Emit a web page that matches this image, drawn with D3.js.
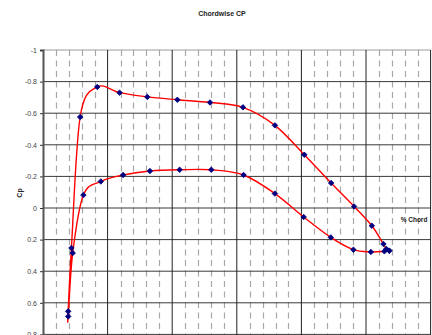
<!DOCTYPE html>
<html>
<head>
<meta charset="utf-8">
<script src="https://cdn.jsdelivr.net/npm/d3@7"></script>
<style>
  html, body { margin: 0; padding: 0; background: #fff; }
  svg { display: block; font-family: "Liberation Sans", Arial, sans-serif; }
</style>
</head>
<body>
<svg id="chart" width="432" height="335"></svg>
<script>
// Pressure coefficient around the section, in measurement order:
// upper surface from trailing edge to leading edge, then lower surface back to the trailing edge.
const chordPct = [107.2, 106.3, 105.4, 101.8, 96.3, 89.2, 80.9, 71.8, 61.9, 51.7, 41.6, 32.3, 23.7, 16.8, 11.5,
                  8.8, 7.8, 7.8, 9.2,
                  12.5, 17.9, 24.8, 33.1, 42.3, 52.1, 62.1, 71.8, 80.7, 89.1, 96.1, 101.5, 105.7, 107.2];
const cpValues = [0.270, 0.259, 0.228, 0.112, -0.010, -0.158, -0.337, -0.523, -0.637, -0.668, -0.685, -0.703, -0.730, -0.766, -0.576,
                  0.253, 0.654, 0.686, 0.285,
                  -0.082, -0.168, -0.209, -0.234, -0.242, -0.242, -0.209, -0.091, 0.057, 0.186, 0.264, 0.278, 0.274, 0.270];

const cpTicks = [-1, -0.8, -0.6, -0.4, -0.2, 0, 0.2, 0.4, 0.6, 0.8, 1];
const cpTickLabels = ["-1", "-0.8", "-0.6", "-0.4", "-0.2", "0", "0.2", "0.4", "0.6", "0.8", "1"];
const chordMajor = [20, 40, 60, 80, 100, 120];
const chordMinor = d3.range(4, 120, 4).filter(v => v % 20 !== 0);

const titleText = "Chordwise CP";
const yTitle = "Cp";
const xTitle = "% Chord";

const svg = d3.select("#chart");

const x = d3.scaleLinear().domain([0, 120]).range([43, 430.6]);
const y = d3.scaleLinear().domain([-1, 1]).range([50, 366]);

const plotTop = y(-1), plotBottom = y(1);
const plotLeft = x(0), plotRight = x(120);

// minor vertical gridlines (dashed)
svg.append("g")
  .selectAll("line")
  .data(chordMinor)
  .join("line")
  .attr("x1", d => Math.round(x(d)) + 0.5)
  .attr("x2", d => Math.round(x(d)) + 0.5)
  .attr("y1", plotTop)
  .attr("y2", plotBottom)
  .attr("stroke", "#a8a8a8")
  .attr("stroke-width", 1.2)
  .attr("stroke-dasharray", "6 4.5")
  .attr("stroke-dashoffset", -10.5);

// major horizontal gridlines
svg.append("g")
  .selectAll("line")
  .data(cpTicks)
  .join("line")
  .attr("x1", plotLeft)
  .attr("x2", plotRight)
  .attr("y1", d => y(d))
  .attr("y2", d => y(d))
  .attr("stroke", d => d === -1 ? "#9a9a9a" : "#3a3a3a")
  .attr("stroke-width", 1);

// major vertical gridlines
svg.append("g")
  .selectAll("line")
  .data(chordMajor)
  .join("line")
  .attr("x1", d => x(d))
  .attr("x2", d => x(d))
  .attr("y1", plotTop)
  .attr("y2", plotBottom)
  .attr("stroke", "#222")
  .attr("stroke-width", 1);

// Cp axis
const yAxis = d3.axisLeft(y)
  .tickValues(cpTicks)
  .tickFormat((d, i) => cpTickLabels[i])
  .tickSize(3)
  .tickPadding(3);

const yAxisG = svg.append("g")
  .attr("transform", `translate(${plotLeft},0)`)
  .call(yAxis);
yAxisG.select(".domain").attr("stroke", "#555").attr("stroke-width", 2);
yAxisG.selectAll(".tick line").attr("stroke", "#333");
yAxisG.selectAll(".tick text")
  .attr("font-size", 7)
  .attr("fill", "#444")
  .attr("font-family", "Liberation Sans, Arial, sans-serif");

// pressure distribution curve
const line = d3.line()
  .x((d, i) => x(chordPct[i]))
  .y((d, i) => y(cpValues[i]))
  .curve(d3.curveCardinal.tension(0));

svg.append("path")
  .datum(cpValues)
  .attr("d", line)
  .attr("fill", "none")
  .attr("stroke", "#ff0000")
  .attr("stroke-width", 1.4);

// markers
const diamond = d3.symbol().type(d3.symbolSquare).size(15);
svg.append("g")
  .selectAll("path")
  .data(cpValues)
  .join("path")
  .attr("d", diamond)
  .attr("transform", (d, i) => `translate(${x(chordPct[i])},${y(d)}) rotate(45)`)
  .attr("fill", "#000080")
  .attr("stroke", "#000080")
  .attr("stroke-width", 0.8);

// titles
svg.append("text")
  .attr("x", 222)
  .attr("y", 16)
  .attr("text-anchor", "middle")
  .attr("font-size", 7)
  .attr("font-weight", "bold")
  .attr("fill", "#222")
  .text(titleText);

svg.append("text")
  .attr("transform", `translate(22,${193}) rotate(-90)`)
  .attr("text-anchor", "middle")
  .attr("font-size", 7)
  .attr("font-weight", "bold")
  .attr("fill", "#222")
  .text(yTitle);

svg.append("text")
  .attr("x", 414)
  .attr("y", 221.5)
  .attr("text-anchor", "middle")
  .attr("font-size", 6.5)
  .attr("font-weight", "bold")
  .attr("fill", "#222")
  .text(xTitle);
</script>
</body>
</html>
